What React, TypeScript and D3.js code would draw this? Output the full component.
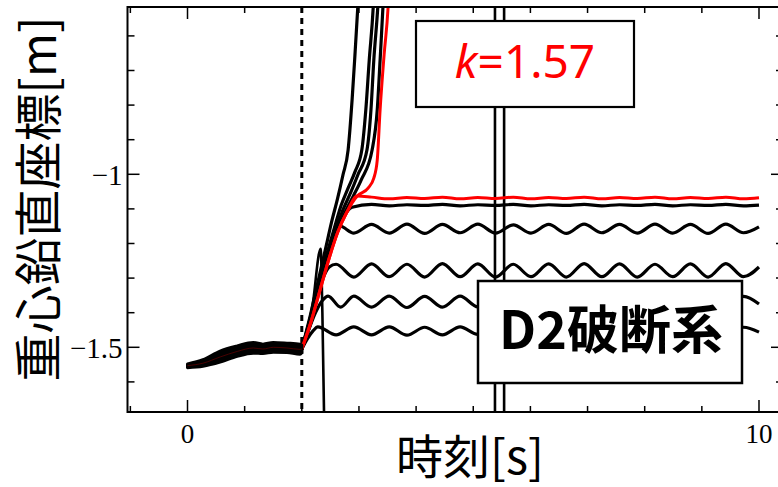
import * as d3 from "d3"
import React from "react"

// canvas and plot frame
const W = 778, H = 487
const frame = { left: 127.5, right: 783, top: 7, bottom: 412 }

// axis ranges: time [s] and height of centre of gravity [m]
const xDomain = [-1.05, 10.42]
const yDomain = [-1.687, -0.5165]
const xMajorTicks = [0, 10]
const xTickLabels = ["0", "10"]
const yMajorTicks = [-1, -1.5]
const yTickLabels = ["\u22121", "\u22121.5"]

// vertical markers
const dashedMarkT = 2.0
const doubleMarkT = [5.38, 5.54]

// thick bundle before the break (t = 0 .. 2)
const bundleT = [0.0, 0.27, 0.57, 0.87, 1.15, 1.32, 1.5, 1.74, 1.97, 2.0]
const bundleUpper = [-1.548, -1.536, -1.511, -1.496, -1.486, -1.491, -1.486, -1.488, -1.491, -1.494]
const bundleLower = [-1.559, -1.555, -1.543, -1.526, -1.517, -1.518, -1.514, -1.515, -1.52, -1.516]
const bundleRed = [-1.553, -1.546, -1.528, -1.512, -1.502, -1.505, -1.5, -1.502, -1.506, -1.505]

// common time grid after the curves settle
const waveT = [3.22, 3.53, 3.84, 4.15, 4.46, 4.77, 5.08, 5.39, 5.7, 6.01, 6.32, 6.63, 6.94, 7.25, 7.56, 7.87, 8.18, 8.49, 8.8, 9.11, 9.42, 9.73, 10.0]

// settled (black) curves: rise part + values on waveT
const flatRiseT = [2.0, 2.14, 2.28, 2.42, 2.56, 2.7, 2.88]
const flatRiseV = [-1.505, -1.421, -1.334, -1.254, -1.184, -1.132, -1.095]
const flatV = [-1.087, -1.091, -1.088, -1.09, -1.087, -1.091, -1.088, -1.09, -1.087, -1.091, -1.088, -1.09, -1.087, -1.091, -1.088, -1.09, -1.087, -1.091, -1.088, -1.09, -1.087, -1.091, -1.089]

const wave1RiseT = [2.0, 2.14, 2.28, 2.41, 2.53, 2.67, 2.91]
const wave1RiseV = [-1.505, -1.427, -1.341, -1.263, -1.205, -1.15, -1.17]
const wave1V = [-1.145, -1.17, -1.144, -1.171, -1.145, -1.169, -1.144, -1.17, -1.146, -1.17, -1.145, -1.171, -1.144, -1.169, -1.145, -1.17, -1.144, -1.17, -1.145, -1.171, -1.144, -1.169, -1.152]

const wave2RiseT = [2.0, 2.12, 2.24, 2.36, 2.48, 2.6, 2.91]
const wave2RiseV = [-1.505, -1.44, -1.37, -1.305, -1.268, -1.26, -1.297]
const wave2V = [-1.259, -1.296, -1.26, -1.297, -1.258, -1.296, -1.259, -1.297, -1.26, -1.296, -1.259, -1.297, -1.258, -1.296, -1.259, -1.297, -1.26, -1.296, -1.259, -1.297, -1.258, -1.296, -1.268]

const wave3RiseT = [2.0, 2.12, 2.24, 2.36, 2.46, 2.68, 2.91]
const wave3RiseV = [-1.505, -1.45, -1.4, -1.365, -1.352, -1.384, -1.352]
const wave3V = [-1.384, -1.352, -1.385, -1.353, -1.384, -1.352, -1.383, -1.352, -1.384, -1.353, -1.385, -1.352, -1.384, -1.352, -1.383, -1.353, -1.384, -1.352, -1.385, -1.352, -1.384, -1.353, -1.375]

const wave4RiseT = [2.0, 2.1, 2.2, 2.28, 2.6, 2.91]
const wave4RiseV = [-1.505, -1.475, -1.452, -1.441, -1.464, -1.441]
const wave4V = [-1.464, -1.441, -1.465, -1.442, -1.464, -1.441, -1.463, -1.441, -1.464, -1.442, -1.465, -1.441, -1.464, -1.441, -1.463, -1.442, -1.464, -1.441, -1.465, -1.441, -1.464, -1.442, -1.456]

// k = 1.57 curves (red)
const redFlatRiseT = [2.0, 2.16, 2.32, 2.48, 2.63, 2.79, 2.97]
const redFlatRiseV = [-1.505, -1.427, -1.334, -1.242, -1.167, -1.109, -1.063]
const redFlatV = [-1.066, -1.071, -1.067, -1.07, -1.066, -1.071, -1.067, -1.07, -1.066, -1.071, -1.067, -1.07, -1.066, -1.071, -1.067, -1.07, -1.066, -1.071, -1.067, -1.07, -1.066, -1.071, -1.068]

const redDivT = [2.0, 2.16, 2.32, 2.48, 2.63, 2.79, 2.97, 3.16, 3.26, 3.32, 3.37, 3.44, 3.51, 3.56]
const redDivV = [-1.505, -1.427, -1.334, -1.242, -1.167, -1.109, -1.063, -1.04, -1.011, -0.959, -0.814, -0.655, -0.516, -0.323]

// diverging (black) curves
const div1T = [2.0, 2.13, 2.27, 2.41, 2.53, 2.62, 2.72, 2.81, 2.88, 2.93, 2.98, 3.04]
const div1V = [-1.505, -1.421, -1.32, -1.219, -1.132, -1.074, -1.002, -0.93, -0.785, -0.655, -0.516, -0.323]
const div2T = [2.0, 2.14, 2.28, 2.42, 2.56, 2.69, 2.81, 2.93, 3.05, 3.12, 3.18, 3.25, 3.3]
const div2V = [-1.505, -1.427, -1.334, -1.242, -1.161, -1.089, -1.04, -0.993, -0.93, -0.814, -0.67, -0.516, -0.323]
const div3T = [2.0, 2.14, 2.28, 2.44, 2.58, 2.72, 2.86, 2.98, 3.14, 3.21, 3.26, 3.33, 3.39]
const div3V = [-1.505, -1.427, -1.334, -1.242, -1.167, -1.103, -1.051, -1.002, -0.93, -0.814, -0.67, -0.516, -0.323]
const div4T = [2.0, 2.16, 2.3, 2.46, 2.62, 2.76, 2.9, 3.04, 3.23, 3.32, 3.37, 3.42, 3.47]
const div4V = [-1.505, -1.427, -1.334, -1.242, -1.167, -1.109, -1.063, -1.016, -0.93, -0.814, -0.67, -0.516, -0.323]

// curve that falls out of the bottom
const fallT = [2.0, 2.1, 2.2, 2.3, 2.33, 2.36, 2.4]
const fallV = [-1.505, -1.445, -1.365, -1.23, -1.215, -1.4, -1.8]

const toPts = (t: number[], v: number[]) => t.map((d, i) => [d, v[i]] as [number, number])

export default function App() {
  const x = d3.scaleLinear().domain(xDomain).range([frame.left, frame.right])
  const y = d3.scaleLinear().domain(yDomain).range([frame.bottom, frame.top])

  const line = d3.line<[number, number]>()
    .x(d => x(d[0]))
    .y(d => y(d[1]))
    .curve(d3.curveMonotoneX)

  const bundleArea = d3.area<number>()
    .x((d, i) => x(bundleT[i]))
    .y0((d, i) => y(bundleLower[i]))
    .y1((d, i) => y(bundleUpper[i]))
    .curve(d3.curveMonotoneX)

  const black = [
    toPts(flatRiseT, flatRiseV).concat(toPts(waveT, flatV)),
    toPts(wave1RiseT, wave1RiseV).concat(toPts(waveT, wave1V)),
    toPts(wave2RiseT, wave2RiseV).concat(toPts(waveT, wave2V)),
    toPts(wave3RiseT, wave3RiseV).concat(toPts(waveT, wave3V)),
    toPts(wave4RiseT, wave4RiseV).concat(toPts(waveT, wave4V)),
    toPts(div1T, div1V),
    toPts(div2T, div2V),
    toPts(div3T, div3V),
    toPts(div4T, div4V),
  ]
  const red = [
    toPts(redFlatRiseT, redFlatRiseV).concat(toPts(waveT, redFlatV)),
    toPts(redDivT, redDivV),
  ]

  const xMinor = d3.range(-1, 11, 1)
  const yMinor = d3.range(-1.6, -0.55, 0.1)
  const serif = "'Liberation Serif', 'Times New Roman', serif"
  const cjk = "'Noto Sans CJK JP', 'Noto Sans', sans-serif"

  return (
    <svg width={W} height={H} style={{ position: "absolute", left: 0, top: 0, background: "#fff" }}>
      <defs>
        <clipPath id="plotClip">
          <rect x={frame.left} y={frame.top} width={frame.right - frame.left} height={frame.bottom - frame.top} />
        </clipPath>
      </defs>

      <g clipPath="url(#plotClip)">
        {/* marker lines */}
        <line x1={x(dashedMarkT)} x2={x(dashedMarkT)} y1={frame.top} y2={frame.bottom}
          stroke="#000" strokeWidth={3} strokeDasharray="6,5" />
        {doubleMarkT.map((t, i) => (
          <line key={i} x1={x(t)} x2={x(t)} y1={frame.top} y2={frame.bottom} stroke="#000" strokeWidth={2.6} />
        ))}

        {/* curves */}
        <path d={line(toPts(fallT, fallV)) || ""} fill="none" stroke="#000" strokeWidth={2.6} />
        {black.map((pts, i) => (
          <path key={"b" + i} d={line(pts) || ""} fill="none" stroke="#000" strokeWidth={3.2} />
        ))}
        {red.map((pts, i) => (
          <path key={"r" + i} d={line(pts) || ""} fill="none" stroke="#ff0000" strokeWidth={3} />
        ))}
        <path d={bundleArea(bundleT) || ""} fill="#000" stroke="#000" strokeWidth={3} strokeLinejoin="round" />
        <path d={line(toPts(bundleT, bundleRed)) || ""} fill="none" stroke="#5a0000" strokeWidth={0.8} />
      </g>

      {/* annotation boxes */}
      <rect x={416} y={21} width={218} height={86} fill="#fff" stroke="#000" strokeWidth={2.2} />
      <text x={525} y={78} textAnchor="middle" fill="#ff0000" fontFamily="'Noto Sans', sans-serif" fontSize={46}>
        <tspan fontStyle="italic">k</tspan>=1.57
      </text>
      <rect x={478} y={281} width={264} height={102} fill="#fff" stroke="#000" strokeWidth={2.5} />
      <text x={611} y={349} textAnchor="middle" fill="#000" fontFamily={cjk} fontWeight="bold" fontSize={52}>
        D2破断系
      </text>

      {/* frame and ticks */}
      <rect x={frame.left} y={frame.top} width={frame.right - frame.left} height={frame.bottom - frame.top}
        fill="none" stroke="#000" strokeWidth={2} />
      {xMinor.map(t => {
        const len = xMajorTicks.includes(t) ? 12 : 6
        return (
          <g key={"xt" + t}>
            <line x1={x(t)} x2={x(t)} y1={frame.bottom} y2={frame.bottom - len} stroke="#000" strokeWidth={1.5} />
            <line x1={x(t)} x2={x(t)} y1={frame.top} y2={frame.top + len} stroke="#000" strokeWidth={1.5} />
          </g>
        )
      })}
      {yMinor.map(v => {
        const major = yMajorTicks.some(m => Math.abs(m - v) < 1e-6)
        const len = major ? 12 : 7
        return (
          <g key={"yt" + v.toFixed(2)}>
            <line x1={frame.left} x2={frame.left + len} y1={y(v)} y2={y(v)} stroke="#000" strokeWidth={1.5} />
            <line x1={frame.right} x2={frame.right - len} y1={y(v)} y2={y(v)} stroke="#000" strokeWidth={1.5} />
          </g>
        )
      })}
      {xMajorTicks.map((t, i) => (
        <text key={"xl" + i} x={x(t)} y={frame.bottom + 31} textAnchor="middle"
          style={{ fontFamily: serif, fontSize: "27px" }}>
          {xTickLabels[i]}
        </text>
      ))}
      {yMajorTicks.map((v, i) => (
        <text key={"yl" + i} x={frame.left - 5} y={y(v) + 11} textAnchor="end"
          style={{ fontFamily: serif, fontSize: "29px" }}>
          {yTickLabels[i]}
        </text>
      ))}

      {/* axis titles */}
      <text x={470} y={474} textAnchor="middle" fontFamily={cjk} fontSize={47}>時刻[s]</text>
      <text transform="translate(56,199) rotate(-90)" textAnchor="middle" fontFamily={cjk} fontSize={48}>
        重心鉛直座標[m]
      </text>
    </svg>
  )
}
